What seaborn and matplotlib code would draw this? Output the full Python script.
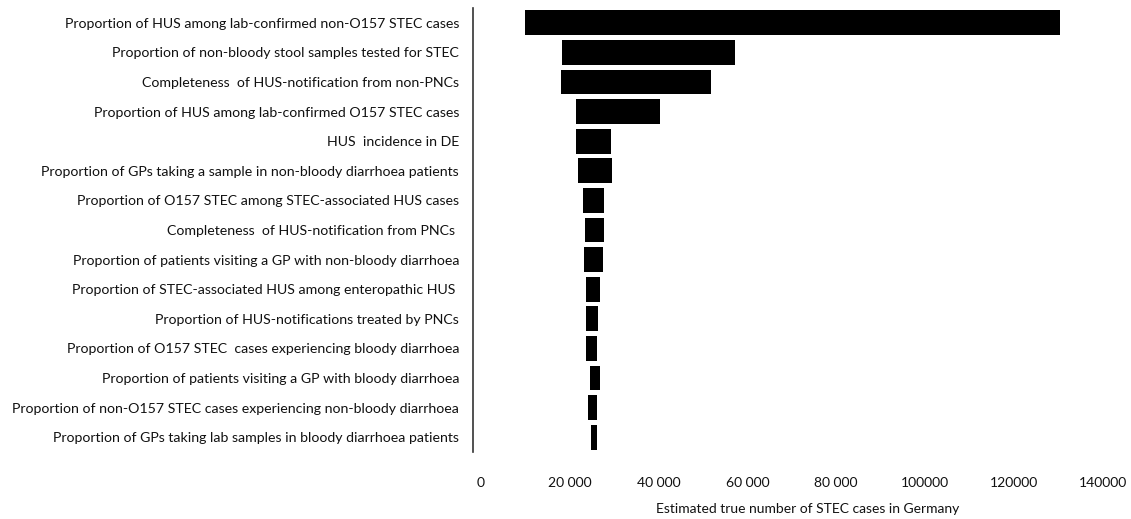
import pandas as pd
import matplotlib
matplotlib.use("Agg")
import matplotlib.pyplot as plt
import seaborn as sns

# Parámetros del análisis de sensibilidad (de arriba hacia abajo)
parametros = [
    "Proportion of HUS among lab-confirmed non-O157 STEC cases",
    "Proportion of non-bloody stool samples tested for STEC",
    "Completeness  of HUS-notification from non-PNCs",
    "Proportion of HUS among lab-confirmed O157 STEC cases",
    "HUS  incidence in DE",
    "Proportion of GPs taking a sample in non-bloody diarrhoea patients",
    "Proportion of O157 STEC among STEC-associated HUS cases",
    "Completeness  of HUS-notification from PNCs ",
    "Proportion of patients visiting a GP with non-bloody diarrhoea",
    "Proportion of STEC-associated HUS among enteropathic HUS ",
    "Proportion of HUS-notifications treated by PNCs",
    "Proportion of O157 STEC  cases experiencing bloody diarrhoea",
    "Proportion of patients visiting a GP with bloody diarrhoea",
    "Proportion of non-O157 STEC cases experiencing non-bloody diarrhoea",
    "Proportion of GPs taking lab samples in bloody diarrhoea patients",
]

# Límites inferior y superior del número estimado de casos
valor_bajo = [9900, 18200, 18000, 21500, 21400, 21800, 22900, 23400,
              23200, 23600, 23600, 23700, 24600, 24000, 24700]
valor_alto = [130400, 57200, 51900, 40300, 29200, 29500, 27800, 27700,
              27400, 26800, 26400, 26100, 26900, 26100, 26200]

ticks_x = [0, 20000, 40000, 60000, 80000, 100000, 120000, 140000]
etiquetas_x = ["0", "20 000", "40 000", "60 000", "80 000", "100000", "120000", "140000"]

df = pd.DataFrame({"parametro": parametros, "bajo": valor_bajo, "alto": valor_alto})

sns.set_style("white")
plt.rcParams["font.family"] = ["Lato", "DejaVu Sans"]

fig = plt.figure(figsize=(11.31, 5.19), dpi=100)
ax = fig.add_axes([473 / 1131, 1 - 452 / 519, 1 - 473 / 1131, (452 - 8) / 519])

# Barras negras hasta el valor alto, luego blancas hasta el valor bajo
sns.barplot(data=df, x="alto", y="parametro", order=parametros, color="black",
            width=0.84, errorbar=None, linewidth=0, saturation=1, ax=ax)
sns.barplot(data=df, x="bajo", y="parametro", order=parametros, color="white",
            width=0.9, errorbar=None, linewidth=0, saturation=1, ax=ax)

ax.set_xlim(-1800, 146400)
ax.set_ylim(14.5, -0.5)
ax.set_xticks(ticks_x)
ax.set_xticklabels(etiquetas_x, fontsize=10)
ax.set_xlabel("Estimated true number of STEC cases in Germany", fontsize=10,
              color="#111111")
ax.xaxis.set_label_coords(0.5 + 6 / 658, -51 / 444)
ax.set_ylabel("")
ax.tick_params(axis="y", length=0, pad=10, labelsize=10.2, labelcolor="#111111")
ax.tick_params(axis="x", length=0, pad=18, labelcolor="#111111")
for lado in ["top", "right", "bottom"]:
    ax.spines[lado].set_visible(False)
ax.spines["left"].set_color("#333333")
ax.spines["left"].set_linewidth(1.2)

fig.savefig("out.png", dpi=100)
